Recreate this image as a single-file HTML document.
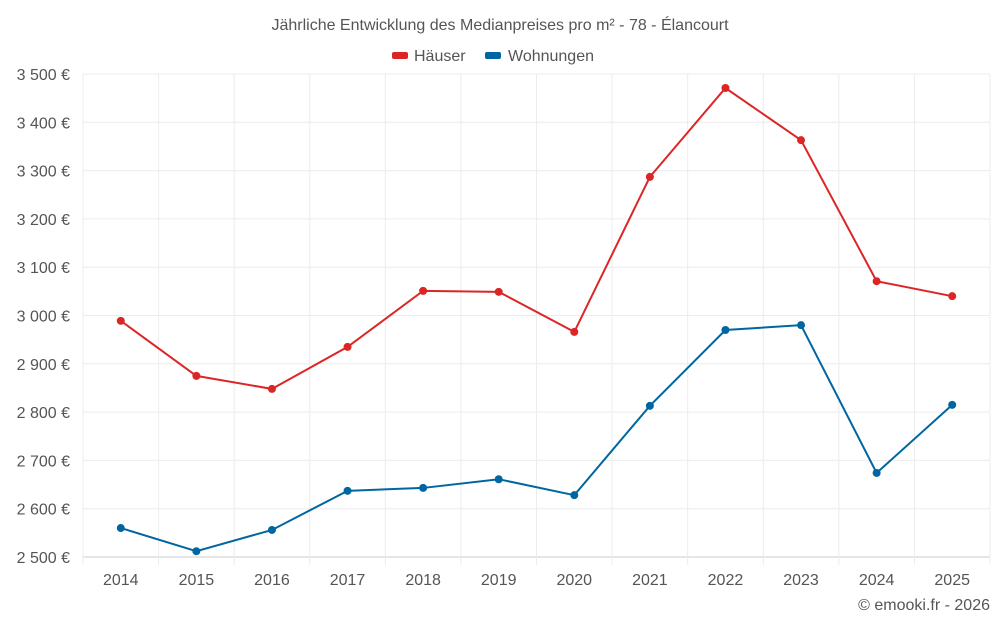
<!DOCTYPE html>
<html><head><meta charset="utf-8"><style>
body{margin:0;background:#fff;font-family:"Liberation Sans",sans-serif}
svg text{font-family:"Liberation Sans",sans-serif;fill:#555}
</style></head><body>
<svg id="c" width="1000" height="625">
<text x="500" y="30" text-anchor="middle" font-size="16">Jährliche Entwicklung des Medianpreises pro m² - 78 - Élancourt</text>
<g>
<rect x="392" y="52" width="16" height="7" rx="2" fill="#dc2626"/>
<text x="414" y="61" font-size="16">Häuser</text>
<rect x="485" y="52" width="16" height="7" rx="2" fill="#0066a1"/>
<text x="508" y="61" font-size="16">Wohnungen</text>
</g>
<g id="grid"></g><g id="axes"></g><g id="series"></g>
<text x="990" y="610" text-anchor="end" font-size="16">© emooki.fr - 2026</text>
</svg>
<script>
const years=["2014","2015","2016","2017","2018","2019","2020","2021","2022","2023","2024","2025"];
const hauser=[2989,2875,2848,2935,3051,3049,2966,3287,3471,3363,3071,3040];
const wohnungen=[2560,2512,2556,2637,2643,2661,2628,2813,2970,2980,2674,2815];
const yTicks=[2500,2600,2700,2800,2900,3000,3100,3200,3300,3400,3500];
const NS="http://www.w3.org/2000/svg";
const L=83,R=990,T=74,B=557,ymin=2500,ymax=3500;
const bw=(R-L)/years.length;
const x=i=>L+bw*(i+0.5);
const y=v=>B-(v-ymin)/(ymax-ymin)*(B-T);
function mk(tag,attrs,parent){const e=document.createElementNS(NS,tag);for(const k in attrs)e.setAttribute(k,attrs[k]);parent.appendChild(e);return e;}
const g=document.getElementById('grid'),ax=document.getElementById('axes'),s=document.getElementById('series');
yTicks.forEach(t=>{
 const l=mk('line',{x1:L,x2:R,y1:y(t),y2:y(t),stroke:t===ymin?'#ccc':'#ececec'},g);
 
 
 const tx=mk('text',{x:70,y:y(t)+6,'text-anchor':'end','font-size':16},ax);
 tx.textContent=t.toLocaleString('fr-FR').replace(/\s/g,' ')+' €';
 
 
});
for(let i=0;i<=years.length;i++){
 const l=mk('line',{x1:L+bw*i,x2:L+bw*i,y1:T,y2:B+(i<years.length||true?8:0),stroke:'#ececec'},g);
 
 
}
years.forEach((yr,i)=>{
 const tx=mk('text',{x:x(i),y:585,'text-anchor':'middle','font-size':16},ax);
 tx.textContent=yr;
 
 
});
[[hauser,'#dc2626','hauser'],[wohnungen,'#0066a1','wohnungen']].forEach(([d,c,n])=>{
 const p=mk('polyline',{points:d.map((v,i)=>x(i)+','+y(v)).join(' '),fill:'none',stroke:c,'stroke-width':2},s);
 
 
 d.forEach((v,i)=>{
  const ci=mk('circle',{cx:x(i),cy:y(v),r:4,fill:c},s);
  
  
 });
});
</script>
</body></html>
